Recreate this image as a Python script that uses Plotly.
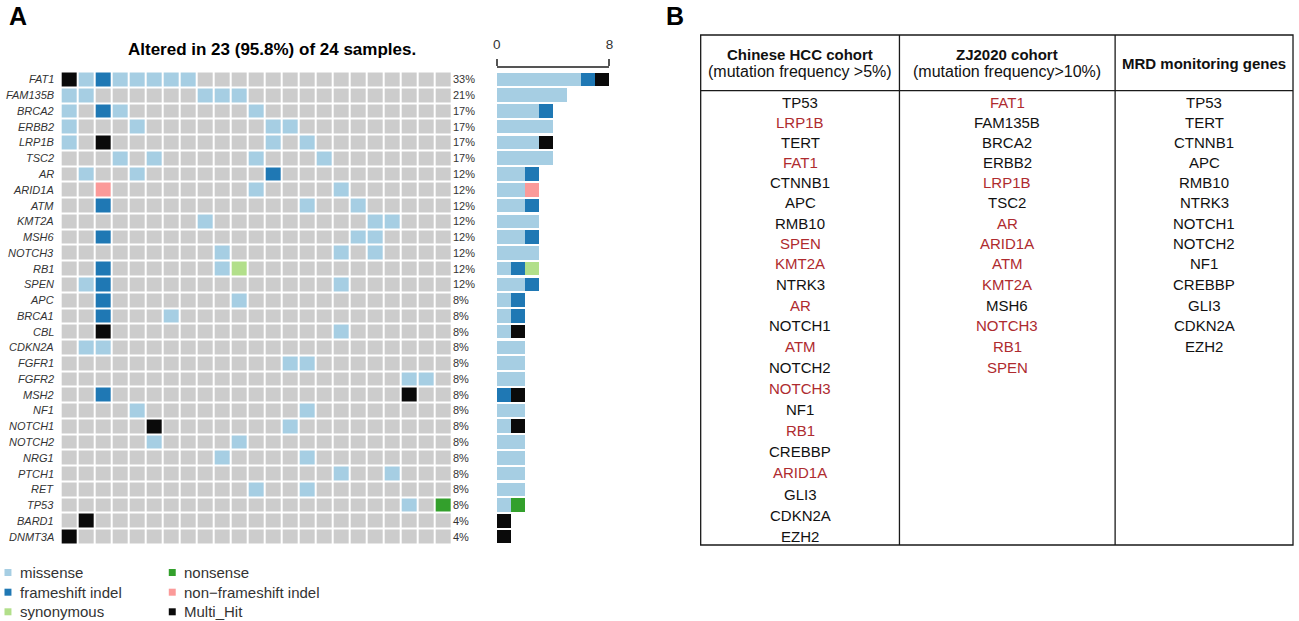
import plotly.graph_objects as go

W, H = 1299, 621
FONT = "Liberation Sans, Arial, sans-serif"

# ---------------- data ----------------
genes = ["FAT1", "FAM135B", "BRCA2", "ERBB2", "LRP1B", "TSC2", "AR", "ARID1A",
         "ATM", "KMT2A", "MSH6", "NOTCH3", "RB1", "SPEN", "APC", "BRCA1", "CBL",
         "CDKN2A", "FGFR1", "FGFR2", "MSH2", "NF1", "NOTCH1", "NOTCH2", "NRG1",
         "PTCH1", "RET", "TP53", "BARD1", "DNMT3A"]

pct_labels = ["33%", "21%", "17%", "17%", "17%", "17%", "12%", "12%", "12%",
              "12%", "12%", "12%", "12%", "12%", "8%", "8%", "8%", "8%", "8%",
              "8%", "8%", "8%", "8%", "8%", "8%", "8%", "8%", "8%", "4%", "4%"]

# one string per gene, one character per sample (23 altered samples shown)
# . none, m missense, f frameshift indel, i non-frameshift indel,
# s synonymous, n nonsense, x Multi_Hit
grid_rows = [
    "xmfmmmmm...............",  # FAT1
    "mm......mmm............",  # FAM135B
    "m.fm.......m...........",  # BRCA2
    "m...m.......mm.........",  # ERBB2
    "m.x.........m.m........",  # LRP1B
    "...m.m.....m...m.......",  # TSC2
    ".m..m.......f..........",  # AR
    "..i........m....m......",  # ARID1A
    "..f...........m..m.....",  # ATM
    "........m.........mm...",  # KMT2A
    "..f..............mm....",  # MSH6
    ".........m......m.m....",  # NOTCH3
    "..f......ms............",  # RB1
    ".mf.............m......",  # SPEN
    "..f.......m............",  # APC
    "..f...m................",  # BRCA1
    "..x.............m......",  # CBL
    ".mm....................",  # CDKN2A
    ".............mm........",  # FGFR1
    "....................mm.",  # FGFR2
    "..f.................x..",  # MSH2
    "....m.........m........",  # NF1
    ".....x.......m.........",  # NOTCH1
    ".....m....m............",  # NOTCH2
    ".........m....m........",  # NRG1
    "................m..m...",  # PTCH1
    "...........m..m........",  # RET
    "....................m.n",  # TP53
    ".x.....................",  # BARD1
    "x......................",  # DNMT3A
]
for r in grid_rows:
    assert len(r) == 23, r

type_codes = [".", "m", "f", "i", "s", "n", "x"]
type_names = ["none", "missense", "frameshift indel", "non\u2212frameshift indel",
              "synonymous", "nonsense", "Multi_Hit"]
type_colors = ["#CCCCCC", "#A6CEE3", "#1F78B4", "#FB9A99", "#B2DF8A", "#33A02C", "#0A0A0A"]

title_text = "Altered in 23 (95.8%) of 24 samples."
bar_ticks = [0, 8]

legend_col1 = ["missense", "frameshift indel", "synonymous"]
legend_col2 = ["nonsense", "non\u2212frameshift indel", "Multi_Hit"]

table_headers = [
    ("Chinese HCC cohort", "(mutation frequency >5%)"),
    ("ZJ2020 cohort", "(mutation frequency>10%)"),
    ("MRD monitoring genes", ""),
]
col_hcc = ["TP53", "LRP1B", "TERT", "FAT1", "CTNNB1", "APC", "RMB10", "SPEN",
           "KMT2A", "NTRK3", "AR", "NOTCH1", "ATM", "NOTCH2", "NOTCH3", "NF1",
           "RB1", "CREBBP", "ARID1A", "GLI3", "CDKN2A", "EZH2"]
col_zj = ["FAT1", "FAM135B", "BRCA2", "ERBB2", "LRP1B", "TSC2", "AR", "ARID1A",
          "ATM", "KMT2A", "MSH6", "NOTCH3", "RB1", "SPEN"]
col_mrd = ["TP53", "TERT", "CTNNB1", "APC", "RMB10", "NTRK3", "NOTCH1", "NOTCH2",
           "NF1", "CREBBP", "GLI3", "CDKN2A", "EZH2"]
red_hcc = ["LRP1B", "FAT1", "SPEN", "KMT2A", "AR", "ATM", "NOTCH3", "RB1", "ARID1A"]
red_zj = ["FAT1", "LRP1B", "AR", "ARID1A", "ATM", "KMT2A", "NOTCH3", "RB1", "SPEN"]
red_mrd = []

# ---------------- helpers ----------------
def px(x):
    return x / W


def py(y):
    return 1 - y / H


fig = go.Figure()

# ---------------- oncoplot heatmap ----------------
code_map = {c: k for k, c in enumerate(type_codes)}
z = [[code_map[c] for c in row] for row in grid_rows]
ncat = len(type_colors)
cs = []
for k, c in enumerate(type_colors):
    cs.append([k / ncat, c])
    cs.append([(k + 1) / ncat, c])

n_samples = len(grid_rows[0])
n_genes = len(genes)

fig.add_trace(go.Heatmap(
    z=z, x=list(range(n_samples)), y=list(range(n_genes)),
    colorscale=cs, zmin=-0.5, zmax=ncat - 0.5, showscale=False,
    xgap=2, ygap=2, hoverinfo="skip", xaxis="x", yaxis="y"))

# ---------------- side bar chart (counts per type) ----------------
for k in range(1, ncat):
    code = type_codes[k]
    counts = [row.count(code) for row in grid_rows]
    fig.add_trace(go.Bar(
        x=counts, y=list(range(n_genes)), orientation="h",
        marker=dict(color=type_colors[k], line=dict(width=0)),
        width=0.86, xaxis="x2", yaxis="y2", hoverinfo="skip", showlegend=False))

grid_x0, grid_x1 = 57, 450
grid_y0, grid_y1 = 71.5, 544.5
bar_x0, bar_x1 = 495.7, 609.2

fig.update_layout(
    width=W, height=H,
    margin=dict(l=0, r=0, t=0, b=0),
    paper_bgcolor="white", plot_bgcolor="white",
    font=dict(family=FONT, color="#222222"),
    barmode="stack", showlegend=False,
    xaxis=dict(domain=[px(grid_x0), px(grid_x1)], range=[-0.5, n_samples - 0.5],
               visible=False, fixedrange=True),
    yaxis=dict(domain=[py(grid_y1), py(grid_y0)], range=[n_genes - 0.5, -0.5],
               visible=False, fixedrange=True),
    xaxis2=dict(domain=[px(bar_x0), px(bar_x1)], range=[0, 8], anchor="free",
                position=py(66.7), side="top", showline=True, linecolor="#555555",
                linewidth=1.5, ticks="outside", tickvals=bar_ticks, ticklen=7,
                tickwidth=1.5, tickcolor="#555555", showgrid=False, zeroline=False,
                ticklabelstandoff=5,
                tickfont=dict(size=13.5, color="#333333", family=FONT)),
    yaxis2=dict(domain=[py(grid_y1), py(grid_y0)], range=[n_genes - 0.5, -0.5],
                visible=False, anchor="x2", fixedrange=True),
)

ann = []
shapes = []

# gene labels and percentages
for i, g in enumerate(genes):
    ann.append(dict(text="<i>%s</i>" % g, x=px(52.5), xref="paper", y=i, yref="y",
                    xanchor="right", yanchor="middle", showarrow=False,
                    font=dict(size=11, color="#333333", family=FONT)))
    ann.append(dict(text=pct_labels[i], x=px(450), xref="paper", y=i, yref="y",
                    xanchor="left", yanchor="middle", showarrow=False,
                    font=dict(size=11, color="#333333", family=FONT)))

# panel letters and title
ann.append(dict(text="<b>A</b>", x=px(3), y=py(16), xref="paper", yref="paper",
                xanchor="left", yanchor="middle", showarrow=False,
                font=dict(size=25, color="black", family=FONT)))
ann.append(dict(text="<b>B</b>", x=px(664), y=py(16), xref="paper", yref="paper",
                xanchor="left", yanchor="middle", showarrow=False,
                font=dict(size=25, color="black", family=FONT)))
ann.append(dict(text="<b>%s</b>" % title_text, x=px(270), y=py(49), xref="paper",
                yref="paper", xanchor="center", yanchor="middle", showarrow=False,
                font=dict(size=17, color="black", family=FONT)))

# legend
leg_rows_y = [572.5, 592.2, 611.8]
for col_items, sq_x, tx_x in [(legend_col1, 0.5, 14), (legend_col2, 165.8, 179.5)]:
    for j, name in enumerate(col_items):
        color = type_colors[type_names.index(name)]
        yc = leg_rows_y[j]
        shapes.append(dict(type="rect", xref="paper", yref="paper",
                           x0=px(sq_x), x1=px(sq_x + 7), y0=py(yc + 3.5), y1=py(yc - 3.5),
                           fillcolor=color, line=dict(width=0)))
        ann.append(dict(text=name, x=px(tx_x), y=py(yc), xref="paper", yref="paper",
                        xanchor="left", yanchor="middle", showarrow=False,
                        font=dict(size=15, color="#333333", family=FONT)))

# ---------------- table (panel B) ----------------
t_x0, t_x1 = 701, 1297
t_y0, t_y1 = 35, 545
div_x = [901, 1118]
head_y = 90.7
line_style = dict(color="#1a1a1a", width=1.3)
shapes.append(dict(type="rect", xref="paper", yref="paper", x0=px(t_x0), x1=px(t_x1),
                   y0=py(t_y1), y1=py(t_y0), line=line_style))
for dx in div_x:
    shapes.append(dict(type="line", xref="paper", yref="paper", x0=px(dx), x1=px(dx),
                       y0=py(t_y1), y1=py(t_y0), line=line_style))
shapes.append(dict(type="line", xref="paper", yref="paper", x0=px(t_x0), x1=px(t_x1),
                   y0=py(head_y), y1=py(head_y), line=line_style))

col_edges = [t_x0] + div_x + [t_x1]
col_centers = [(col_edges[k] + col_edges[k + 1]) / 2 for k in range(3)]
RED = "#AE2B2F"

for k, (h1, h2) in enumerate(table_headers):
    cx = col_centers[k]
    if h2:
        ann.append(dict(text="<b>%s</b>" % h1, x=px(cx), y=py(55), xref="paper",
                        yref="paper", xanchor="center", yanchor="middle",
                        showarrow=False, font=dict(size=15, color="#111111", family=FONT)))
        ann.append(dict(text=h2, x=px(cx), y=py(72), xref="paper",
                        yref="paper", xanchor="center", yanchor="middle",
                        showarrow=False, font=dict(size=16, color="#111111", family=FONT)))
    else:
        ann.append(dict(text="<b>%s</b>" % h1, x=px(cx), y=py(63), xref="paper",
                        yref="paper", xanchor="center", yanchor="middle",
                        showarrow=False, font=dict(size=15, color="#111111", family=FONT)))


def row_y(i):
    return 102.5 + 19.85 * i + 0.04 * i * i


for k, (items, reds) in enumerate([(col_hcc, red_hcc), (col_zj, red_zj), (col_mrd, red_mrd)]):
    for i, g in enumerate(items):
        ann.append(dict(text=g, x=px(col_centers[k]), y=py(row_y(i)), xref="paper",
                        yref="paper", xanchor="center", yanchor="middle",
                        showarrow=False,
                        font=dict(size=15, color=RED if g in reds else "#111111",
                                  family=FONT)))

fig.update_layout(annotations=ann, shapes=shapes)
fig.write_html("out.html", config={"displayModeBar": False},
               post_script="document.body.style.margin='0';document.body.style.overflow='hidden';")
